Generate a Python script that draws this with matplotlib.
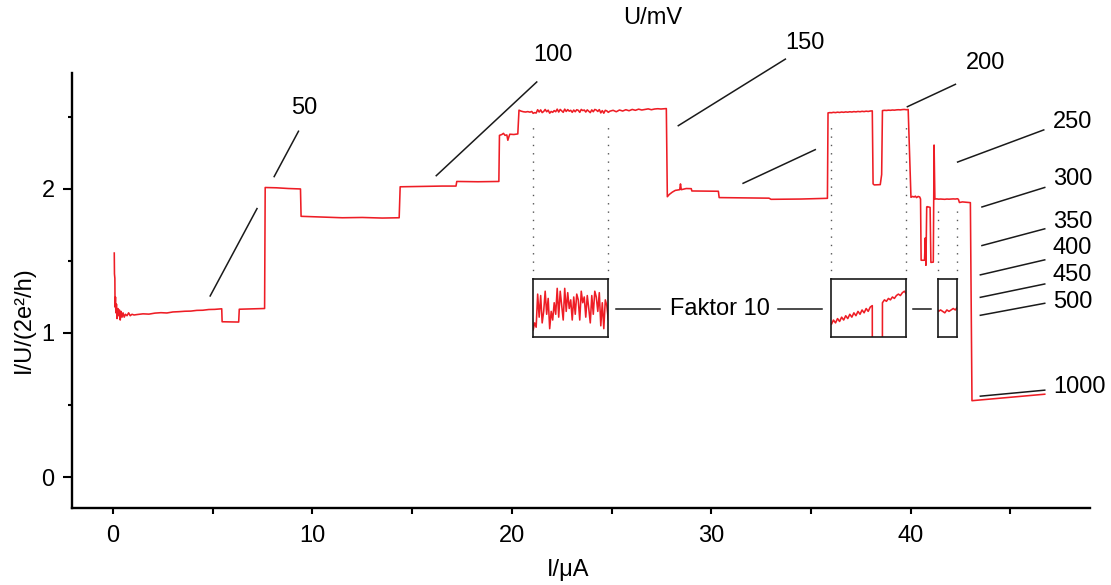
import numpy as np
import matplotlib
matplotlib.use("Agg")
import matplotlib.pyplot as plt

plt.rcParams['font.family'] = ['Liberation Sans', 'DejaVu Sans']

# ---------------------------------------------------------------- data
# conductance G/(2e^2/h) versus current I (uA)
I_start = [0.06, 0.07, 0.09, 0.10, 0.12, 0.14, 0.17, 0.20, 0.24, 0.28, 0.32, 0.36,
           0.40, 0.45, 0.50, 0.56, 0.62, 0.70, 0.78, 0.86, 0.95, 1.05]
G_start = [1.555, 1.41, 1.38, 1.18, 1.25, 1.14, 1.20, 1.10, 1.17, 1.12, 1.16, 1.09,
           1.15, 1.11, 1.14, 1.11, 1.13, 1.12, 1.14, 1.12, 1.13, 1.125]

I_low = [1.2, 1.5, 1.8, 2.1, 2.4, 2.7, 3.0, 3.3, 3.6, 3.9, 4.2, 4.5, 4.8, 5.1, 5.42]
G_low = [1.128, 1.133, 1.131, 1.138, 1.141, 1.139, 1.146, 1.148, 1.151, 1.152, 1.157,
         1.158, 1.163, 1.164, 1.168]

I_steps = [5.45, 5.47, 6.30, 6.33, 7.60, 7.63, 8.2, 8.8, 9.40, 9.43, 10.5, 11.5, 12.5,
           13.5, 14.35, 14.40, 15.5, 16.5, 17.20, 17.24, 18.3, 19.35, 19.38, 19.50,
           19.58, 19.66, 19.75, 19.80, 19.86, 19.90, 20.10, 20.30]
G_steps = [1.168, 1.078, 1.076, 1.165, 1.170, 2.010, 2.008, 2.003, 2.000, 1.810, 1.805,
           1.800, 1.802, 1.798, 1.800, 2.015, 2.018, 2.020, 2.020, 2.052, 2.050, 2.052,
           2.372, 2.378, 2.386, 2.372, 2.375, 2.338, 2.365, 2.380, 2.378, 2.382]

# first high plateau
I_plat1a = [20.36, 20.47, 20.58, 20.69, 20.80, 20.91, 21.00]
G_plat1a = [2.547, 2.540, 2.536, 2.534, 2.537, 2.533, 2.538]
G_plat1b = [2.525, 2.530, 2.527, 2.550, 2.534, 2.549, 2.530, 2.538, 2.552, 2.536, 2.547,
            2.526, 2.538, 2.532, 2.544, 2.536, 2.554, 2.534, 2.552, 2.542, 2.532, 2.554,
            2.538, 2.551, 2.540, 2.546, 2.532, 2.548, 2.536, 2.550, 2.546, 2.532, 2.552,
            2.544, 2.548, 2.534, 2.549, 2.540, 2.530, 2.549, 2.536, 2.552, 2.548, 2.538,
            2.551, 2.528, 2.544, 2.526, 2.546, 2.542, 2.532]
I_plat1c = [24.92, 25.08, 25.24, 25.40, 25.56, 25.72, 25.88, 26.04, 26.20, 26.36, 26.52,
            26.68, 26.84, 27.00, 27.16, 27.32, 27.48, 27.72]
G_plat1c = [2.540, 2.546, 2.536, 2.548, 2.541, 2.550, 2.543, 2.552, 2.546, 2.554, 2.548,
            2.552, 2.556, 2.550, 2.555, 2.557, 2.555, 2.558]

I_mid = [27.75, 27.80, 27.90, 28.05, 28.20, 28.42, 28.46, 28.50, 28.75, 29.00, 29.03,
         29.8, 30.36, 30.40, 31.5, 32.9, 33.0, 34.5, 35.83, 35.86, 35.95]
G_mid = [2.558, 1.946, 1.962, 1.978, 1.990, 1.995, 2.035, 1.995, 2.003, 2.002, 1.986,
         1.985, 1.984, 1.940, 1.938, 1.936, 1.928, 1.930, 1.935, 2.528, 2.530]

# second high plateau with a dropout
G_plat2a = [2.529, 2.532, 2.530, 2.533, 2.531, 2.534, 2.532, 2.535, 2.533, 2.536, 2.534,
            2.537, 2.535, 2.538, 2.536, 2.539, 2.537, 2.540, 2.538, 2.541, 2.542]
I_dip = [38.12, 38.18, 38.48, 38.55]
G_dip = [2.035, 2.028, 2.030, 2.100]
G_plat2b = [2.544, 2.546, 2.545, 2.547, 2.546, 2.548, 2.547, 2.549, 2.550, 2.549, 2.551,
            2.552, 2.550]

I_end = [39.88, 40.02, 40.10, 40.18, 40.24, 40.30, 40.38, 40.46, 40.50, 40.53, 40.70,
         40.74, 40.77, 40.81, 40.84, 40.98, 41.02, 41.14, 41.18, 41.22, 41.32]
G_end = [2.552, 1.942, 1.948, 1.944, 1.950, 1.940, 1.948, 1.944, 1.930, 1.505, 1.505,
         1.660, 1.470, 1.875, 1.877, 1.872, 1.490, 1.492, 2.305, 1.930, 1.931]
G_plat3 = [1.929, 1.930, 1.929, 1.928, 1.930, 1.929, 1.930, 1.931, 1.930, 1.932]
I_tail = [42.40, 42.45, 42.60, 43.00, 43.08, 46.73]
G_tail = [1.928, 1.906, 1.910, 1.905, 0.530, 0.575]

# magnified windows (Faktor 10): current range and conductance floor
zoom_I = [(21.07, 24.84), (36.03, 39.79), (41.40, 42.35)]
zoom_G_floor = [2.520, 2.520, 1.911]

# constant-voltage lines U (mV)
U_levels = [50, 100, 150, 200, 250, 300, 350, 400, 450, 500, 1000]

# ---------------------------------------------------------------- assemble trace
I_trace = np.concatenate([
    I_start, I_low, I_steps, I_plat1a,
    np.linspace(zoom_I[0][0], zoom_I[0][1], len(G_plat1b)),
    I_plat1c, I_mid,
    np.linspace(zoom_I[1][0], 38.08, len(G_plat2a)),
    I_dip,
    np.linspace(38.59, zoom_I[1][1], len(G_plat2b)),
    I_end,
    np.linspace(zoom_I[2][0], zoom_I[2][1], len(G_plat3)),
    I_tail])
G_trace = np.concatenate([
    G_start, G_low, G_steps, G_plat1a, G_plat1b, G_plat1c, G_mid,
    G_plat2a, G_dip, G_plat2b, G_end, G_plat3, G_tail])

# G/(2e^2/h) = K * I[uA] / U[mV]
K = 1e-3 / 7.748091729e-5

# ---------------------------------------------------------------- figure
red = '#ee1d25'
ink = '#1a1a1a'
fs = 17

fig = plt.figure(figsize=(11.11, 5.85), dpi=100)
ax = fig.add_axes([72 / 1111, 77 / 585, 1018 / 1111, 435 / 585])
ax.set_xlim(-2.06, 49.0)
ax.set_ylim(-0.215, 2.805)

ax.plot(I_trace, G_trace, color=red, lw=1.15, zorder=3)

for s in ('top', 'right'):
    ax.spines[s].set_visible(False)
for s in ('left', 'bottom'):
    ax.spines[s].set_linewidth(1.7)
    ax.spines[s].set_color('black')

ax.set_xticks([0, 10, 20, 30, 40])
ax.set_xticks([5, 15, 25, 35, 45], minor=True)
ax.set_yticks([0, 1, 2])
ax.set_yticks([0.5, 1.5, 2.5], minor=True)
ax.tick_params(axis='both', which='both', direction='out', width=1.5,
               labelsize=fs, color='black')
ax.tick_params(axis='x', which='major', length=4.5, pad=8)
ax.tick_params(axis='x', which='minor', length=4)
ax.tick_params(axis='y', which='major', length=6.5, pad=6)
ax.tick_params(axis='y', which='minor', length=3)

ax.set_xlabel('I/μA', fontsize=fs)
ax.xaxis.set_label_coords(0.487, -0.118)
ax.set_ylabel('I/U/(2e²/h)', fontsize=fs)
ax.yaxis.set_label_coords(-0.036, 0.432)
fig.text(653 / 1111, 1 - 18 / 585, 'U/mV', fontsize=fs, ha='center', va='center')

# constant-voltage guide lines and their labels
U_segments = [[(4.87, 7.22), (8.08, 9.30)], [(16.21, 21.25)], [(28.35, 33.72)],
              [(31.6, 35.22), (39.84, 42.25)], [(42.36, 46.68)], [(43.58, 46.73)],
              [(43.58, 46.73)], [(43.5, 46.73)], [(43.5, 46.73)], [(43.5, 46.73)],
              [(43.5, 46.73)]]
U_label_xy = [(9.58, 2.56), (22.08, 2.93), (34.72, 3.01), (43.75, 2.875), (48.12, 2.462),
              (48.12, 2.07), (48.12, 1.773), (48.12, 1.59), (48.12, 1.403),
              (48.12, 1.215), (48.47, 0.627)]
for U, segs, (lx, ly) in zip(U_levels, U_segments, U_label_xy):
    for a, b in segs:
        xs = np.array([a, b])
        ax.plot(xs, K * xs / U, color=ink, lw=1.1, clip_on=False, zorder=2)
    ax.text(lx, ly, str(U), fontsize=fs, ha='center', va='center', clip_on=False)

# magnified windows
box_bottom, box_top = 0.970, 1.373
guide_tops = [2.44, 2.44, 1.89]
for (x0, x1), floor, gtop in zip(zoom_I, zoom_G_floor, guide_tops):
    for xv in (x0, x1):
        ax.plot([xv, xv], [box_top, gtop], color='#555555', lw=1.0,
                linestyle=(0, (1, 5)), zorder=1)
    ins = ax.inset_axes([x0, box_bottom, x1 - x0, box_top - box_bottom],
                        transform=ax.transData)
    ins.plot(I_trace, G_trace, color=red, lw=1.15)
    ins.set_xlim(x0, x1)
    ins.set_ylim(floor, floor + (box_top - box_bottom) / 10)
    ins.set_xticks([])
    ins.set_yticks([])
    for sp in ins.spines.values():
        sp.set_linewidth(1.2)
        sp.set_color(ink)

ax.plot([25.24, 27.45], [1.165, 1.165], color=ink, lw=1.1)
ax.plot([33.37, 35.57], [1.165, 1.165], color=ink, lw=1.1)
ax.plot([40.14, 41.04], [1.165, 1.165], color=ink, lw=1.1)
ax.text(30.46, 1.17, 'Faktor 10', fontsize=fs, ha='center', va='center')

fig.savefig('out.png', dpi=100)
